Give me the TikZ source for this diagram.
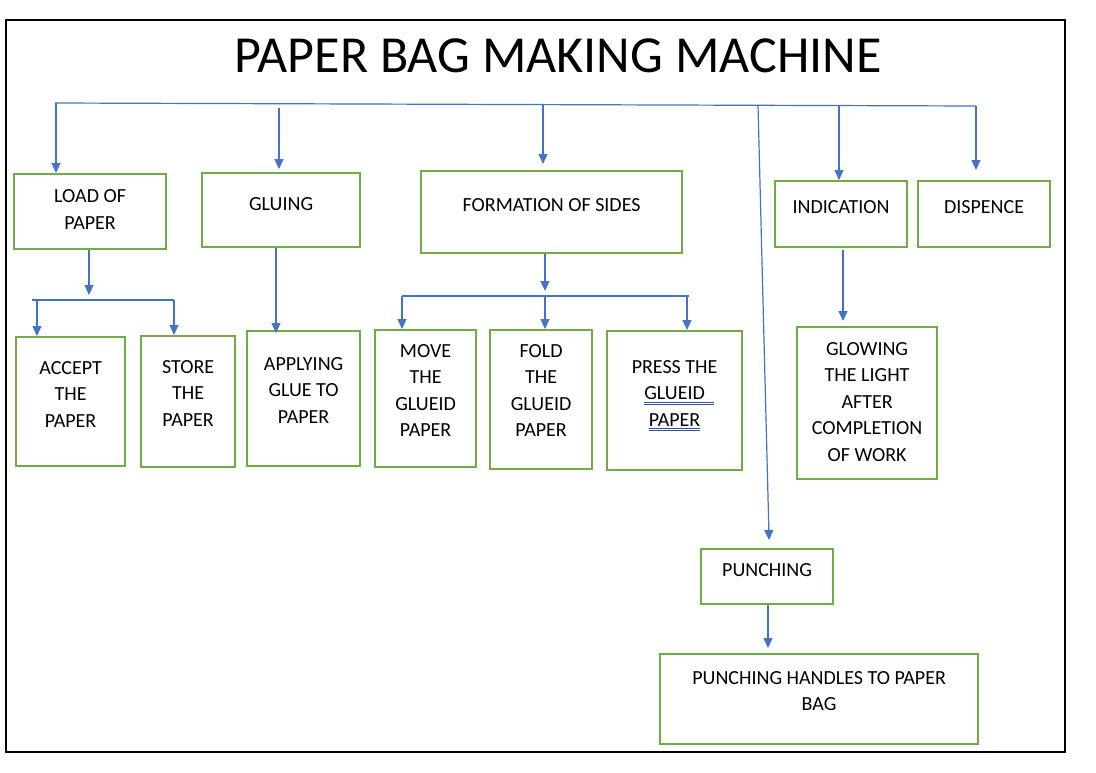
\documentclass[tikz,border=0pt]{standalone}
\usepackage{fontspec}
\setmainfont{Carlito}
\usetikzlibrary{arrows.meta}
\definecolor{boxgreen}{HTML}{70AD47}
\definecolor{lineblue}{HTML}{4472C4}
\definecolor{ulblue}{HTML}{2F5597}
\newcommand\bt[4]{\parbox[c][#2pt][t]{#1pt}{\centering\rule{0pt}{#3pt}#4}}
\newcommand\dul[2][0pt]{\leavevmode\setbox0\hbox{#2}\rlap{\color{ulblue}\rule[-2.6pt]{\dimexpr\wd0+#1\relax}{0.7pt}}\rlap{\color{ulblue}\rule[-4.9pt]{\dimexpr\wd0+#1\relax}{0.7pt}}\box0}
\tikzset{
  box/.style={draw=boxgreen, line width=2.2pt, inner sep=0pt, anchor=north west,
    font=\fontsize{20}{26.5}\selectfont},
  arr/.style={draw=lineblue, line width=1.2pt, -{Triangle[width=9pt,length=10pt]}},
  bus/.style={draw=lineblue, line width=1.2pt}
}
\begin{document}
\begin{tikzpicture}[x=1pt,y=-1pt]
\useasboundingbox (0,0) rectangle (1096,772);
\fill[white] (0,0) rectangle (1096,772);
\draw[black, line width=1.5pt] (6,20) rectangle (1065,752);

\node[anchor=base, font=\fontsize{52}{60}\selectfont] (title) at (558,72) {PAPER BAG MAKING MACHINE};

% top level boxes
\node[box] (load) at (13,173) {\bt{152}{75}{28.5}{LOAD OF\\PAPER}};
\node[box] (gluing) at (201,172) {\bt{158}{74}{37}{GLUING}};
\node[box] (formation) at (420,170) {\bt{261}{82}{40}{FORMATION OF SIDES}};
\node[box] (indication) at (774,180) {\bt{132}{66}{32}{INDICATION}};
\node[box] (dispence) at (917,180) {\bt{132}{66}{32}{DISPENCE}};

% second level
\node[box] (accept) at (15,336) {\bt{109}{129}{37}{ACCEPT\\THE\\PAPER}};
\node[box] (store) at (140,335) {\bt{94}{131}{37}{STORE\\THE\\PAPER}};
\node[box] (applying) at (246,330) {\bt{113}{135}{39}{APPLYING\\GLUE TO\\PAPER}};
\node[box] (move) at (374,329) {\bt{101}{137}{27}{MOVE\\THE\\GLUEID\\PAPER}};
\node[box] (fold) at (489,329) {\bt{102}{139}{27}{FOLD\\THE\\GLUEID\\PAPER}};
\node[box] (press) at (606,330) {\bt{135}{139}{42}{PRESS THE\\\dul[9pt]{GLUEID}\\\dul{PAPER}}};
\node[box] (glowing) at (796,326) {\bt{140}{152}{28}{GLOWING\\THE LIGHT\\AFTER\\COMPLETION\\OF WORK}};
\node[box] (punching) at (700,548) {\bt{132}{55}{27}{PUNCHING}};
\node[box] (handles) at (659,653) {\bt{318}{90}{30}{PUNCHING HANDLES TO PAPER\\BAG}};

% main bus
\coordinate (busL) at (55,103);
\coordinate (busR) at (976,106);
\draw[bus] (busL) -- (busR);
\coordinate (d1) at (56,103);
\coordinate (d2) at (279,108);
\coordinate (d3) at (543,104);
\coordinate (d4) at (758,105);
\coordinate (d5) at (839,106);
\coordinate (d6) at (976,106);
\draw[arr] (d1) -- (load.north -| d1);
\draw[arr, shorten >=3pt] (d2) -- (gluing.north -| d2);
\draw[arr, shorten >=6pt] (d3) -- (formation.north -| d3);
\draw[arr] (d4) -- ([xshift=2pt,yshift=8pt]punching.north);
\draw[arr] (d5) -- (indication.north -| d5);
\draw[arr, shorten >=10pt] (d6) -- (dispence.north -| d6);

% load sub-bus
\coordinate (lb0) at (89,295);
\coordinate (lbL) at (32,300);
\coordinate (lbR) at (174,300);
\coordinate (la) at (37,300);
\draw[arr] (load.south -| lb0) -- (lb0);
\draw[bus] (lbL) -- (lbR);
\draw[arr] (la) -- (accept.north -| la);
\draw[arr] (lbR) -- (store.north -| lbR);

% gluing
\coordinate (gx) at (276,0);
\draw[arr, shorten >=-3pt] (gluing.south -| gx) -- (applying.north -| gx);

% formation sub-bus
\coordinate (fb0) at (545,291);
\coordinate (fbL) at (402,296);
\coordinate (fbR) at (689,296);
\coordinate (fm) at (545,296);
\coordinate (fr) at (687,296);
\draw[arr] (formation.south -| fb0) -- (fb0);
\draw[bus] (fbL) -- (fbR);
\draw[arr] (fbL) -- (move.north -| fbL);
\draw[arr] (fm) -- (fold.north -| fm);
\draw[arr] (fr) -- (press.north -| fr);

% indication
\coordinate (ix) at (843,0);
\draw[arr, shorten >=5pt] ([yshift=-2pt]indication.south -| ix) -- (glowing.north -| ix);

% punching
\coordinate (px) at (768,0);
\draw[arr, shorten >=5pt] (punching.south -| px) -- (handles.north -| px);
\end{tikzpicture}
\end{document}
